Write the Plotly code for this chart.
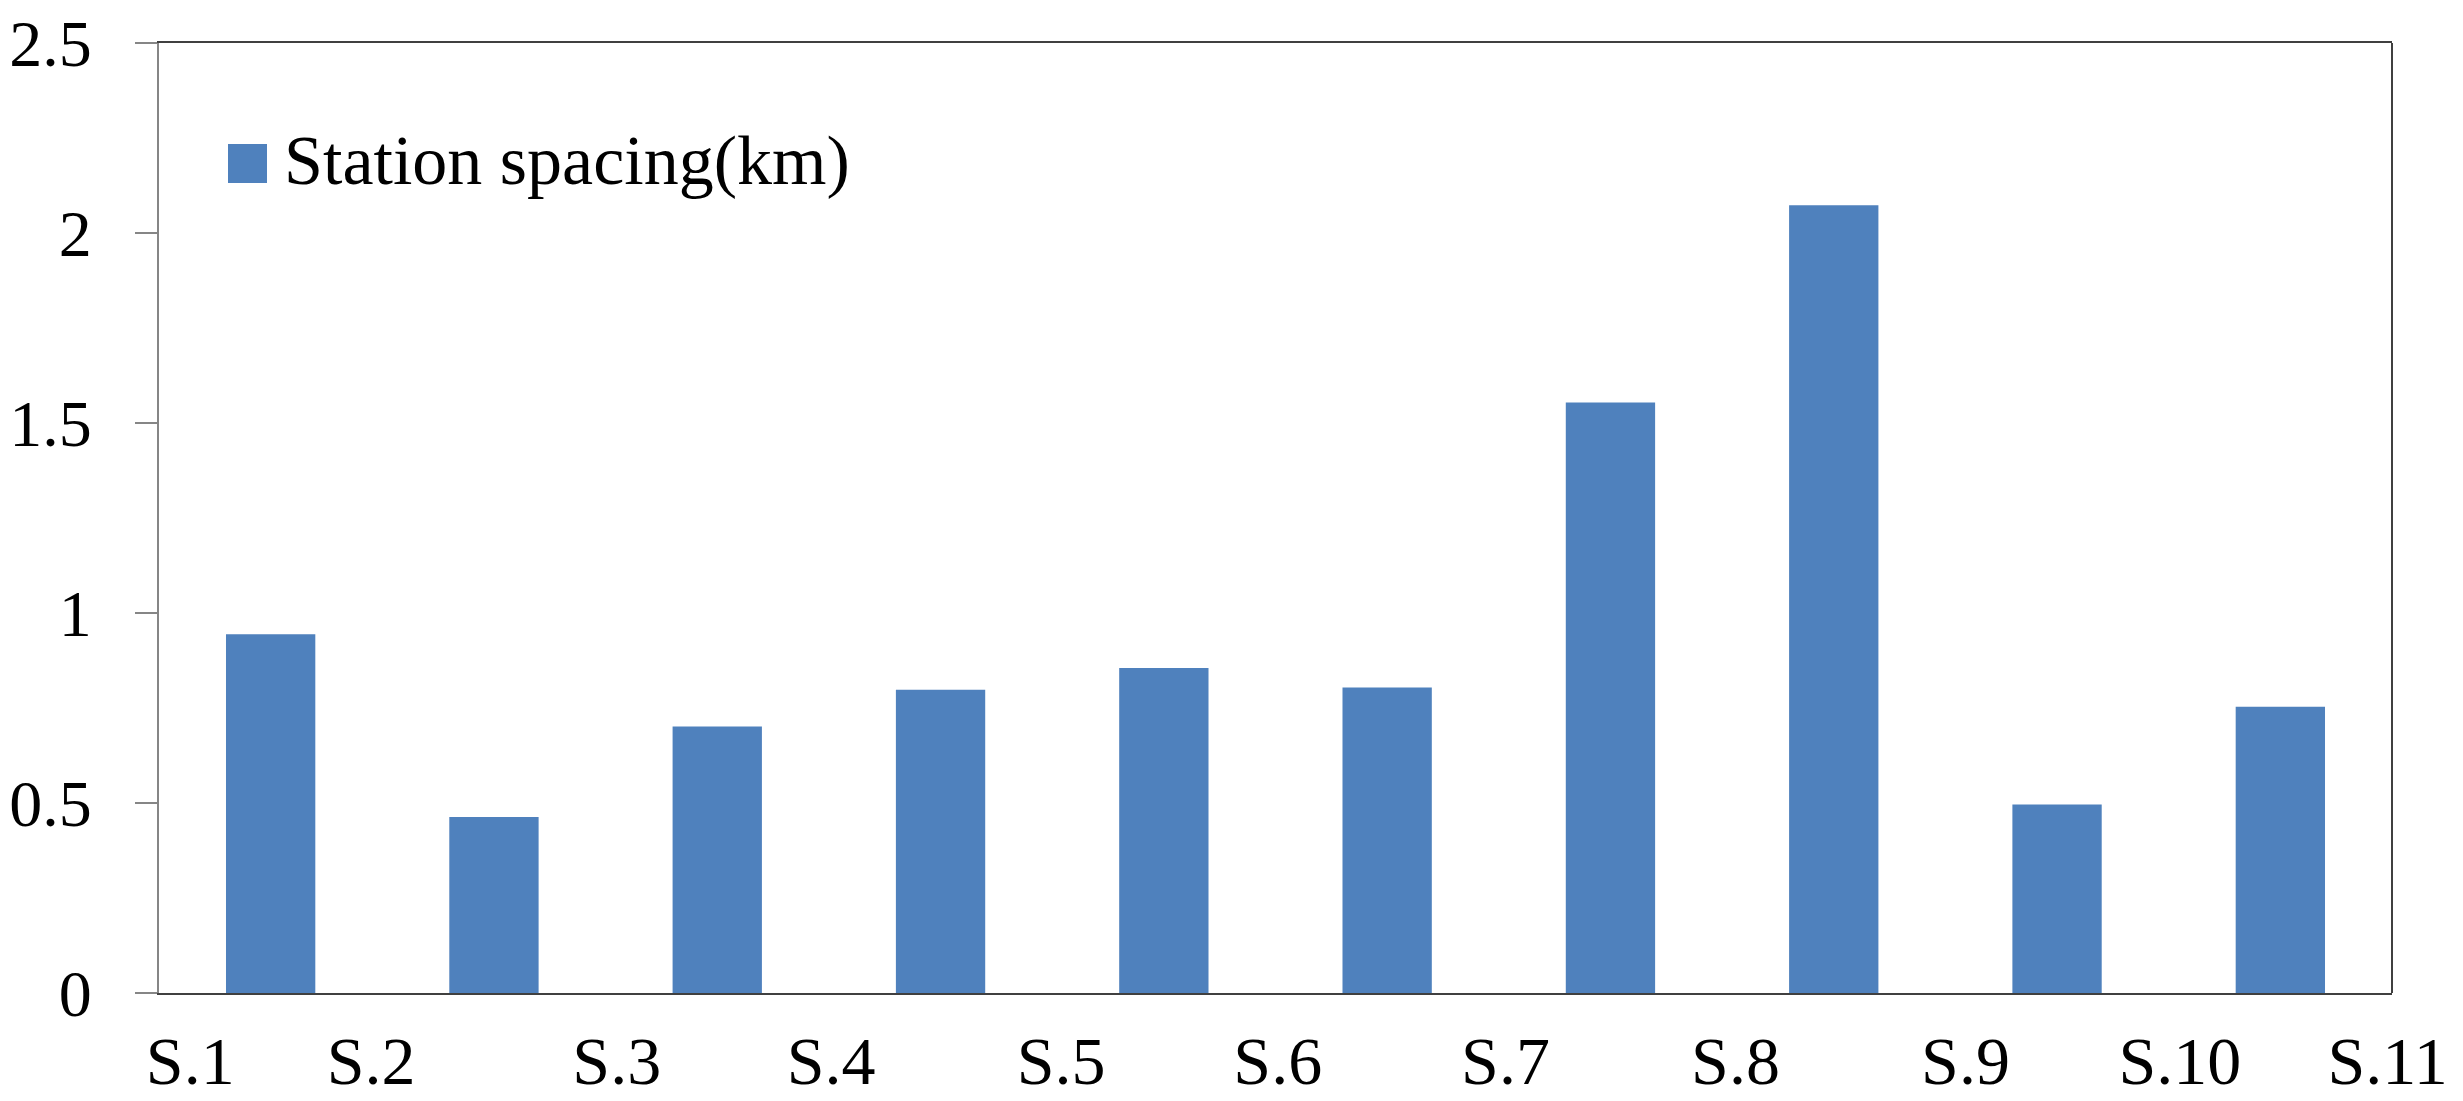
import plotly.graph_objects as go

# Data
series_name = "Station spacing(km)"
bar_index = [0, 1, 2, 3, 4, 5, 6, 7, 8, 9]
spacing_km = [0.944, 0.463, 0.701, 0.798, 0.855, 0.804, 1.554, 2.073, 0.496, 0.753]
station_labels = ["S.1", "S.2", "S.3", "S.4", "S.5", "S.6", "S.7", "S.8", "S.9", "S.10", "S.11"]
station_label_pos = [-0.36, 0.45, 1.55, 2.51, 3.54, 4.51, 5.53, 6.56, 7.59, 8.55, 9.48]
y_ticks = [0, 0.5, 1, 1.5, 2, 2.5]

BAR_COLOR = "#4F81BD"
FONT = "Liberation Serif"

# page has an 8px body margin; compensate
OFF = 8
W, H = 2463 - OFF, 1101 - OFF
L, R, T, B = 159 - OFF, 71, 43 - OFF, 108

fig = go.Figure()
fig.add_trace(go.Bar(
    x=bar_index, y=spacing_km, name=series_name,
    marker=dict(color=BAR_COLOR, line=dict(width=0)),
    width=0.4, showlegend=False,
))

fig.update_layout(
    width=W, height=H,
    margin=dict(l=L, r=R, t=T, b=B, pad=0, autoexpand=False),
    paper_bgcolor="white", plot_bgcolor="white",
    font=dict(family=FONT, size=68, color="black"),
    xaxis=dict(
        range=[-0.5, 9.5], tickmode="array",
        tickvals=station_label_pos, ticktext=station_labels,
        ticks="", showgrid=False, zeroline=False, automargin=False,
        showline=True, mirror=True, linecolor="#404040", linewidth=2,
        tickfont=dict(family=FONT, size=68, color="black"),
        ticklabelstandoff=7, ticklabeloverflow="allow",
    ),
    yaxis=dict(
        range=[0, 2.5], tickmode="array", tickvals=y_ticks,
        ticks="outside", ticklen=22, tickcolor="#868686", tickwidth=2,
        showgrid=False, zeroline=False, automargin=False,
        showline=True, linecolor="#868686", linewidth=2,
        tickfont=dict(family=FONT, size=66, color="black"),
        ticklabelstandoff=30, ticklabeloverflow="allow",
    ),
)

# right border of plot area
fig.add_shape(type="line", xref="paper", yref="paper", x0=1, x1=1, y0=0, y1=1,
              line=dict(color="#404040", width=2))

# legend (manual, to get the large key); positions in reference page pixels
pw, ph = W - L - R, H - T - B
def px_x(p):
    return (p - OFF - L) / pw
def px_y(p):
    return (H - B - (p - OFF)) / ph

fig.add_shape(type="rect", xref="paper", yref="paper",
              x0=px_x(228), x1=px_x(267), y0=px_y(183), y1=px_y(144),
              fillcolor=BAR_COLOR, line=dict(width=0))
fig.add_annotation(xref="paper", yref="paper", x=px_x(282), y=px_y(160),
                   xanchor="left", yanchor="middle", showarrow=False,
                   text=series_name, font=dict(family=FONT, size=70, color="black"))

fig.write_html("out.html")
